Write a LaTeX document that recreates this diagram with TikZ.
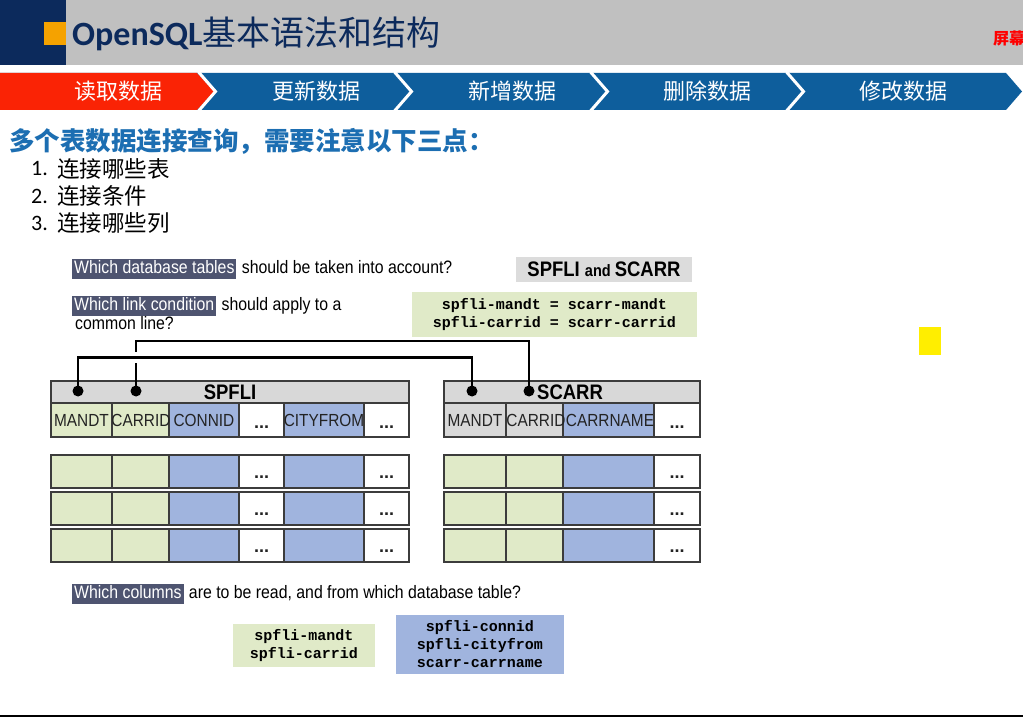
\documentclass[tikz,border=0pt]{standalone}
\usepackage{fontspec}
\setmainfont{Liberation Sans}
\newfontfamily\cjkfont{Noto Sans CJK SC}
\newfontfamily\calfont{Carlito}
\newfontfamily\mymono{Liberation Mono}
\newfontfamily\narrowfont[FakeStretch=0.88]{Liberation Sans}
\definecolor{hdrgray}{RGB}{192,192,192}
\definecolor{navy}{RGB}{12,42,92}
\definecolor{orangec}{RGB}{245,162,0}
\definecolor{navred}{RGB}{250,35,5}
\definecolor{navblue}{RGB}{14,94,156}
\definecolor{headblue}{RGB}{28,110,178}
\definecolor{hlc}{RGB}{78,84,112}
\definecolor{greenc}{RGB}{224,234,200}
\definecolor{bluec}{RGB}{160,180,222}
\definecolor{boxgray}{RGB}{220,220,220}
\definecolor{hdrcell}{RGB}{216,216,216}
\definecolor{bordc}{RGB}{60,60,60}
\definecolor{labc}{RGB}{35,35,35}
\definecolor{yellowc}{RGB}{255,238,0}
\newcommand{\qfont}{\narrowfont\fontsize{18}{21}\selectfont}
\newcommand{\labfont}{\narrowfont\fontsize{17.5}{20}\selectfont}
\newcommand{\ellfont}{\bfseries\fontsize{18}{20}\selectfont}
\newcommand{\codefont}{\mymono\bfseries\fontsize{15}{18}\selectfont}
\newcommand{\navfont}{\cjkfont\fontsize{22}{26}\selectfont}
\tikzset{
  hl/.style={fill=hlc, text=white, inner xsep=2pt, inner ysep=1.5pt, text height=13pt, text depth=4pt, font=\qfont, anchor=base west},
  qt/.style={inner sep=0pt, anchor=base west, font=\qfont, text=black},
  cellbox/.style={draw=bordc, line width=1.2pt},
  lab/.style={font=\labfont, text=labc, inner sep=0pt},
  ell/.style={font=\ellfont, text=labc, inner sep=0pt},
  dotn/.style={circle, fill=black, inner sep=0pt, minimum size=11pt},
  conn/.style={line width=2.8pt, draw=black},
  codebox/.style={font=\codefont, align=center, inner sep=0pt},
  navtxt/.style={text=white, font=\navfont, inner sep=0pt},
  thead/.style={font=\narrowfont\bfseries\fontsize{21}{24}\selectfont, inner sep=0pt},
}
\begin{document}
\begin{tikzpicture}[x=1pt,y=-1pt]
\useasboundingbox (0,0) rectangle (1023,719);
\fill[white] (0,0) rectangle (1023,719);
% header
\fill[hdrgray] (0,0) rectangle (1023,65);
\fill[navy] (0,0) rectangle (66,65);
\fill[orangec] (44,22) rectangle (66,45);
\node[anchor=west, inner sep=0pt, text=navy] (title) at (72,34) {\fontsize{34}{40}\selectfont\calfont\bfseries OpenSQL\cjkfont\mdseries 基本语法和结构};
\node[anchor=west, inner sep=0pt, text=red] (scr) at (993,38) {\cjkfont\bfseries\fontsize{16}{18}\selectfont 屏幕};
% nav bar
\fill[navblue] (0,73) -- (1006,73) -- (1022,91.5) -- (1006,110) -- (0,110) -- cycle;
\fill[navred] (0,73) -- (197,73) -- (214,91.5) -- (197,110) -- (0,110) -- cycle;
\foreach \s in {197,393,589,785} \draw[white, line width=3pt] (\s+1.5,72) -- (\s+18.5,91.5) -- (\s+1.5,111);
\node[navtxt] (nav1) at (118,91.5) {读取数据};
\node[navtxt] (nav2) at (316,91.5) {更新数据};
\node[navtxt] (nav3) at (512,91.5) {新增数据};
\node[navtxt] (nav4) at (707,91.5) {删除数据};
\node[navtxt] (nav5) at (903,91.5) {修改数据};
% heading and list
\node[anchor=west, inner sep=0pt, text=headblue, font=\cjkfont\bfseries\fontsize{25.5}{28}\selectfont] (head) at (9,141) {多个表数据连接查询，需要注意以下三点：};
\node[anchor=west, inner sep=0pt, font=\calfont\fontsize{22}{24}\selectfont] (n1) at (31,169) {1.};
\node[anchor=west, inner sep=0pt, font=\cjkfont\fontsize{22.5}{24}\selectfont] (l1) at (57,169) {连接哪些表};
\node[anchor=west, inner sep=0pt, font=\calfont\fontsize{22}{24}\selectfont] (n2) at (31,196) {2.};
\node[anchor=west, inner sep=0pt, font=\cjkfont\fontsize{22.5}{24}\selectfont] (l2) at (57,196) {连接条件};
\node[anchor=west, inner sep=0pt, font=\calfont\fontsize{22}{24}\selectfont] (n3) at (31,223) {3.};
\node[anchor=west, inner sep=0pt, font=\cjkfont\fontsize{22.5}{24}\selectfont] (l3) at (57,223) {连接哪些列};
% questions
\node[hl] (q1) at (72,274) {Which database tables};
\node[qt] (q1t) at ([xshift=5pt]q1.base east) {should be taken into account?};
\node[hl] (q2) at (72,311) {Which link condition};
\node[qt] (q2t) at ([xshift=5pt]q2.base east) {should apply to a};
\node[qt] (q2b) at (75,330) {common line?};
\node[hl] (q3) at (72,598) {Which columns};
\node[qt] (q3t) at ([xshift=5pt]q3.base east) {are to be read, and from which database table?};
% answer boxes
\node[fill=boxgray, minimum width=176pt, minimum height=25pt, inner sep=0pt] (tabs) at (604,269.5) {\narrowfont\bfseries\fontsize{21}{22}\selectfont SPFLI \fontsize{16.5}{18}\selectfont and \fontsize{21}{22}\selectfont SCARR};
\node[fill=greenc, minimum width=285pt, minimum height=45pt, codebox] (cond) at (554.5,314.5) {spfli-mandt = scarr-mandt\\spfli-carrid = scarr-carrid};
% SPFLI table
\filldraw[fill=hdrcell, cellbox] (51,381) rectangle (409,403);
\node[thead] (spfli) at (230,392.5) {SPFLI};
\foreach \a/\b/\c in {51/112/greenc, 112/169/greenc, 169/239/bluec, 239/284/white, 284/364/bluec, 364/409/white} {
  \filldraw[cellbox, fill=\c] (\a,403) rectangle (\b,437);
  \foreach \t/\bb in {455/488, 492/525, 529/562} \filldraw[cellbox, fill=\c] (\a,\t) rectangle (\b,\bb);
}
\node[lab] (s1) at (81.5,420) {MANDT};
\node[lab] (s2) at (141,420) {CARRID};
\node[lab] (s3) at (204,420) {CONNID};
\node[ell] (s4) at (261.5,427) {...};
\node[lab] (s5) at (324,420) {CITYFROM};
\node[ell] (s6) at (386.5,427) {...};
\foreach \y in {477,514,551} {
  \node[ell] at (261.5,\y) {...};
  \node[ell] at (386.5,\y) {...};
}
% SCARR table
\filldraw[fill=hdrcell, cellbox] (444,381) rectangle (700,403);
\node[thead, anchor=west] (scarr) at (537,392.5) {SCARR};
\foreach \a/\b/\c/\d in {444/506/hdrcell/greenc, 506/563/hdrcell/greenc, 563/654/bluec/bluec, 654/700/white/white} {
  \filldraw[cellbox, fill=\c] (\a,403) rectangle (\b,437);
  \foreach \t/\bb in {455/488, 492/525, 529/562} \filldraw[cellbox, fill=\d] (\a,\t) rectangle (\b,\bb);
}
\node[lab] (c1) at (475,420) {MANDT};
\node[lab] (c2) at (536,420) {CARRID};
\node[lab] (c3) at (610,420) {CARRNAME};
\node[ell] (c4) at (677,427) {...};
\foreach \y in {477,514,551} \node[ell] at (677,\y) {...};
% join dots and connectors
\node[dotn] (d1) at (78,391) {};
\node[dotn] (d2) at (136,391) {};
\node[dotn] (d3) at (472,391) {};
\node[dotn] (d4) at (529,391) {};
\draw[conn] (d2.center) -- ++(0,-50) -| (d4.center);
\fill[white] (132,352) rectangle (140,363);
\draw[conn] (d1.center) -- ++(0,-33.3) -| (d3.center);
% selected columns
\node[fill=greenc, minimum width=142pt, minimum height=43pt, codebox] (selA) at (304,645.5) {spfli-mandt\\spfli-carrid};
\node[fill=bluec, minimum width=168pt, minimum height=59pt, codebox] (selB) at (480,644.5) {spfli-connid\\spfli-cityfrom\\scarr-carrname};
% misc
\fill[yellowc] (919,327) rectangle (941,355);
\draw[line width=2pt] (0,716) -- (1023,716);
\end{tikzpicture}
\end{document}
